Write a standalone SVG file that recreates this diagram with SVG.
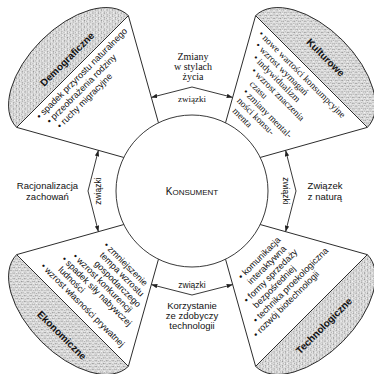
<svg xmlns="http://www.w3.org/2000/svg" width="374" height="374" viewBox="0 0 374 374">
<defs>
<pattern id="stip" width="4" height="4" patternUnits="userSpaceOnUse">
<rect width="4" height="4" fill="#dcdcdc"/>
<rect x="0" y="0" width="1" height="1" fill="#8f8f8f"/>
<rect x="2" y="1" width="1" height="1" fill="#ababab"/>
<rect x="1" y="2" width="1" height="1" fill="#f6f6f6"/>
<rect x="3" y="3" width="1" height="1" fill="#9c9c9c"/>
<rect x="3" y="0" width="1" height="1" fill="#f4f4f4"/>
</pattern>
<marker id="ah" viewBox="0 0 8 6" refX="8" refY="3" markerWidth="6" markerHeight="4.5" orient="auto-start-reverse" markerUnits="userSpaceOnUse">
<path d="M0,0 L8,3 L0,6 Z" fill="#222"/>
</marker>
</defs>
<style>
.edge{fill:none;stroke:#222;stroke-width:0.9}
.cap{fill:url(#stip);stroke:#222;stroke-width:0.9}
.conn{fill:none;stroke:#222;stroke-width:0.9;marker-start:url(#ah);marker-end:url(#ah)}
.b{font-family:"Liberation Sans",Arial,sans-serif;font-size:9px;fill:#111}
.bs{font-family:"Liberation Serif","Times New Roman",serif;font-size:9.5px;fill:#111}
.t{font-family:"Liberation Sans",Arial,sans-serif;font-size:10px;font-weight:bold;fill:#111;text-anchor:middle}
.lab{font-family:"Liberation Sans",Arial,sans-serif;font-size:9.5px;fill:#111;text-anchor:middle}
.labs{font-family:"Liberation Serif","Times New Roman",serif;font-size:10px;fill:#111;text-anchor:middle}
.zw{font-family:"Liberation Sans",Arial,sans-serif;font-size:8.5px;fill:#111;text-anchor:middle}
.zws{font-family:"Liberation Serif","Times New Roman",serif;font-size:9px;fill:#111;text-anchor:middle}
</style>
<rect width="374" height="374" fill="#fff"/>

<g id="demograficzne">
<g transform="translate(192,191) rotate(225)">
<path class="edge" d="M71.9,-24.5 L169,-79 M169,79 L71.9,24.5"/>
<path class="cap" d="M169,-79 A44,79 0 0 1 169,79 Z"/>
</g>
<g transform="translate(192,191) rotate(-45)">
<text class="t" x="5" y="-178">Demograficzne</text>
<text class="b" x="-57" y="-158">• spadek przyrostu naturalnego</text>
<text class="b" x="-53" y="-147.3">• przeobrażenia rodziny</text>
<text class="b" x="-49" y="-136.8">• ruchy migracyjne</text>
</g>
</g>

<g id="kulturowe">
<g transform="translate(192,191) rotate(315)">
<path class="edge" d="M71.9,-24.5 L169,-79 M169,79 L71.9,24.5"/>
<path class="cap" d="M169,-79 A44,79 0 0 1 169,79 Z"/>
</g>
<g transform="translate(192,191) rotate(45)">
<text class="t" x="0" y="-185.3">Kulturowe</text>
<text class="bs" x="-64" y="-157.3">• nowe wartości konsumpcyjne</text>
<text class="bs" x="-58" y="-146.9">• wzrost wymagań</text>
<text class="bs" x="-51" y="-136.5">• indywidualizm</text>
<text class="bs" x="-43" y="-126.1">• wzrost znaczenia</text>
<text class="bs" x="-35" y="-115.7">czasu</text>
<text class="bs" x="-34" y="-105.3">• zmiany mental-</text>
<text class="bs" x="-32" y="-94.9">ności konsu-</text>
<text class="bs" x="-28" y="-84.5">menta</text>
</g>
</g>

<g id="ekonomiczne">
<g transform="translate(192,191) rotate(135)">
<path class="edge" d="M71.9,-24.5 L169,-79 M169,79 L71.9,24.5"/>
<path class="cap" d="M169,-79 A44,79 0 0 1 169,79 Z"/>
</g>
<g transform="translate(192,191) rotate(45)">
<text class="t" x="10" y="197.5">Ekonomiczne</text>
<text class="b" x="-24" y="101.5">• zmniejszenie</text>
<text class="b" x="-19.8" y="111.4">tempa wzrostu</text>
<text class="b" x="-17.7" y="121.3">gospodarczego</text>
<text class="b" x="-38" y="131.2">• wzrost konkurencji</text>
<text class="b" x="-43.8" y="141.1">• spadek siły nabywczej</text>
<text class="b" x="-38.9" y="151">ludności</text>
<text class="b" x="-53.7" y="160.9">• wzrost własności prywatnej</text>
</g>
</g>

<g id="technologiczne">
<g transform="translate(192,191) rotate(45)">
<path class="edge" d="M71.9,-24.5 L169,-79 M169,79 L71.9,24.5"/>
<path class="cap" d="M169,-79 A44,79 0 0 1 169,79 Z"/>
</g>
<g transform="translate(192,191) rotate(-45)">
<text class="t" x="-2" y="192">Technologiczne</text>
<text class="b" x="-27.6" y="98">• komunikacja</text>
<text class="b" x="-24.7" y="108.3">interaktywna</text>
<text class="b" x="-40.3" y="118.6">• formy sprzedaży</text>
<text class="b" x="-37.5" y="128.9">bezpośredniej</text>
<text class="b" x="-48" y="139.2">• technika proekologiczna</text>
<text class="b" x="-58" y="149.5">• rozwój biotechnologii</text>
</g>
</g>

<g id="konsument">
<circle cx="192" cy="191" r="76" fill="#fff" stroke="#222" stroke-width="0.9"/>
<text x="192" y="195" font-family="Liberation Sans, Arial, sans-serif" font-size="8" fill="#111" text-anchor="middle"><tspan font-size="10">K</tspan>ONSUMENT</text>
</g>

<g id="connectors">
<path class="conn" d="M151.3,97.4 L192,87 L232.7,97.4"/>
<path class="conn" d="M151.3,284.6 L192,295 L232.7,284.6"/>
<path class="conn" d="M98.4,150.3 L88,191 L98.4,231.7"/>
<path class="conn" d="M285.6,150.3 L296,191 L285.6,231.7"/>
<text class="zws" x="192" y="101.5">związki</text>
<text class="zw" x="192" y="287.5">związki</text>
<text class="zw" transform="translate(101,191) rotate(-90)">związki</text>
<text class="zw" transform="translate(283,191) rotate(90)">związki</text>
</g>

<g id="labels">
<text class="labs" x="193" y="59.5">Zmiany</text>
<text class="labs" x="193" y="69.5">w stylach</text>
<text class="labs" x="193" y="79.5">życia</text>
<text class="lab" x="47.5" y="189">Racjonalizacja</text>
<text class="lab" x="47.5" y="200">zachowań</text>
<text class="lab" x="325" y="189">Związek</text>
<text class="lab" x="325" y="200">z naturą</text>
<text class="lab" x="192" y="308.5">Korzystanie</text>
<text class="lab" x="192" y="318.5">ze zdobyczy</text>
<text class="lab" x="192" y="328.5">technologii</text>
</g>
</svg>
